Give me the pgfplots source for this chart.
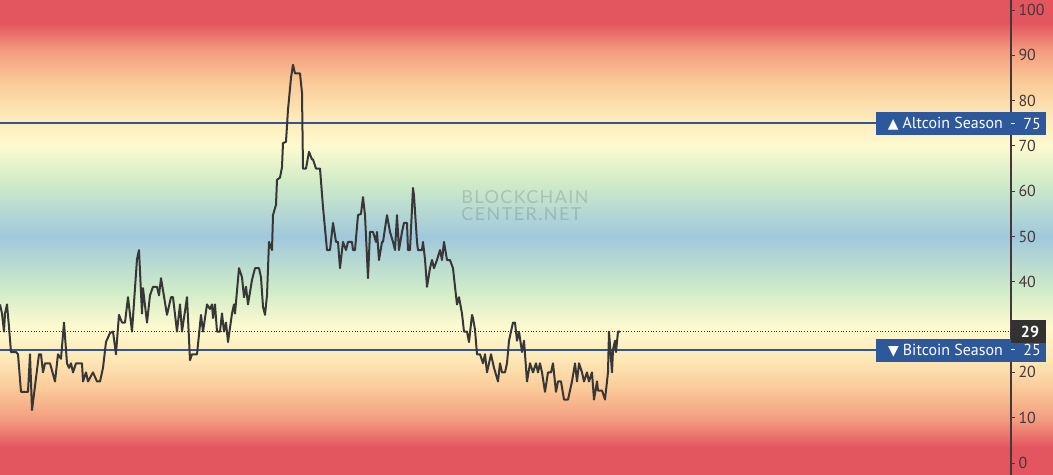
\documentclass[border=0pt]{standalone}
\usepackage{fontspec}
\setmainfont{PT Sans}
\newfontfamily\symfont{DejaVu Sans}
\newfontfamily\wmfont[LetterSpace=8]{Lato}
\usepackage{pgfplots}
\pgfplotsset{compat=1.18}
\definecolor{cred}{RGB}{227,86,95}
\definecolor{ca}{RGB}{243,155,128}
\definecolor{cb}{RGB}{250,200,150}
\definecolor{cc}{RGB}{253,232,182}
\definecolor{cd}{RGB}{254,250,208}
\definecolor{ce}{RGB}{208,236,200}
\definecolor{cf}{RGB}{160,200,220}
\definecolor{boxblue}{RGB}{46,88,156}
\definecolor{lineblue}{RGB}{50,85,150}
\definecolor{linec}{RGB}{55,55,55}
\definecolor{tickc}{RGB}{70,55,58}
\definecolor{darkbox}{RGB}{50,50,50}
\begin{document}
\begin{tikzpicture}
\begin{axis}[
  set layers, clip=false,
  scale only axis, width=1011bp, height=475bp,
  xmin=0, xmax=1011, ymin=-2.65, ymax=102.2,
  axis x line=none, axis y line*=right,
  y axis line style={color=tickc, line width=1.2bp},
  ytick={0,10,20,40,50,60,70,80,90,100},
  tick align=outside, major tick length=4bp,
  y tick style={color=tickc, line width=0.8bp},
  yticklabel style={font=\fontsize{16}{18}\selectfont, text=tickc, anchor=west, xshift=0bp},
  /pgf/number format/assume math mode=true,
]
\begin{pgfonlayer}{axis background}
\fill[cred] (axis cs:0,-2.65) rectangle (axis cs:1053,3.55);
\shade[bottom color=cred, top color=ca] (axis cs:0,3.5) rectangle (axis cs:1053,9.55);
\shade[bottom color=ca, top color=cb] (axis cs:0,9.5) rectangle (axis cs:1053,16.05);
\shade[bottom color=cb, top color=cc] (axis cs:0,16) rectangle (axis cs:1053,23.05);
\shade[bottom color=cc, top color=cd] (axis cs:0,23) rectangle (axis cs:1053,30.05);
\shade[bottom color=cd, top color=ce] (axis cs:0,30) rectangle (axis cs:1053,38.05);
\shade[bottom color=ce, top color=cf] (axis cs:0,38) rectangle (axis cs:1053,50.05);
\shade[bottom color=cf, top color=ce] (axis cs:0,50) rectangle (axis cs:1053,62.05);
\shade[bottom color=ce, top color=cd] (axis cs:0,62) rectangle (axis cs:1053,70.05);
\shade[bottom color=cd, top color=cc] (axis cs:0,70) rectangle (axis cs:1053,77.05);
\shade[bottom color=cc, top color=cb] (axis cs:0,77) rectangle (axis cs:1053,84.55);
\shade[bottom color=cb, top color=ca] (axis cs:0,84.5) rectangle (axis cs:1053,91.05);
\shade[bottom color=ca, top color=cred] (axis cs:0,91) rectangle (axis cs:1053,97.05);
\fill[cred] (axis cs:0,97) rectangle (axis cs:1053,102.2);
\node[font=\wmfont\fontsize{18}{17}\selectfont, text=black, opacity=0.14, align=left] at (axis cs:525,56.8) {BLOCKCHAIN\\CENTER.NET};
\end{pgfonlayer}
\draw[linec, dotted, line width=0.8bp] (axis cs:0,29) -- (axis cs:1011,29);
\draw[lineblue, line width=1.6bp] (axis cs:0,75) -- (axis cs:1011,75);
\draw[lineblue, line width=1.6bp] (axis cs:0,25) -- (axis cs:1011,25);
\addplot[color=linec, line width=2bp, line join=round] coordinates {
(0,35) (2,33) (4,29) (5,33) (7,35) (9,30) (11,24.5) (16,24.5) (18,24) (21,15.7) (28,15.7) (30,24) (32,11.7) (35,17) (39,24) (41,24) (43,20) (45,22) (50,22) (55,18) (58,24) (61,23) (64,31) (67,22) (69,21) (71,22) (73,20) (76,22) (82,22) (83,18) (86,20) (88,18) (93,20) (97,18) (100,18) (103,21) (106,26.7) (110,28.7) (113,29) (116,24) (117,27) (119,32.7) (122,31) (125,31) (128,36.6) (132,29) (137,45) (139,47) (142,33) (143,38.6) (147,31) (150,37) (153,38.9) (157,38.9) (159,37) (161,40.8) (167,32.7) (171,36.6) (173,36.6) (177,29) (180,35) (182,29) (187,36.6) (190,22.7) (192,24) (197,24) (201,32.7) (203,29) (207,35) (210,34) (212,35) (213,32) (215,35) (217,29) (220,29) (222,33) (224,29) (226,31) (228,26.7) (232,33) (234,35) (235,33) (239,43) (242,41) (244,36.6) (246,38.9) (248,35) (252,40.4) (255,43) (259,43) (261,41) (263,34.5) (265,32.7) (267,37) (269,48.8) (272,47) (273,54.7) (276,57) (277,62.5) (280,63) (282,65.3) (283,70.6) (286,70.9) (288,78) (291,85) (293,87.9) (295,86) (298,86) (300,86) (302,81.7) (303,65) (306,65) (309,68.7) (312,67) (313,67) (316,65) (320,65) (323,56.5) (327,47) (330,47) (333,53) (336,48.8) (338,48.8) (340,43) (343,48.8) (346,47) (348,48.8) (352,48.8) (353,47) (355,47) (358,54.7) (361,55) (363,58.7) (365,54.7) (368,40.8) (370,51) (373,51) (376,48.8) (377,51) (379,44.8) (382,48.8) (383,48.8) (387,54.7) (390,51) (393,48.8) (395,47) (397,54.7) (399,47) (402,51) (404,53) (407,53) (408,47) (410,47) (413,60.7) (414,59) (417,48.8) (418,47) (422,47) (423,48.8) (425,45) (427,38.9) (430,43) (432,44.8) (434,43) (437,44.8) (440,47) (442,44.8) (444,48.8) (447,44.8) (450,44.8) (453,43) (455,38.9) (457,35) (459,36.6) (462,33) (464,29) (467,29) (469,26.7) (472,32.7) (473,32) (475,29.4) (477,24) (480,24) (483,22) (485,24) (487,20) (491,24) (494,21) (498,18) (500,22) (502,20) (505,20) (507,22) (509,27) (513,31) (515,31) (517,27) (519,29) (522,24.5) (524,27) (527,18) (530,22) (533,20) (536,22) (538,20) (540,22) (542,20) (545,15.7) (548,20) (551,20) (553,22) (556,15.7) (558,18) (561,18) (564,14) (568,14) (572,18) (575,22) (577,18) (579,22) (582,20) (584,18) (587,20) (589,18) (592,20) (594,14) (597,18) (598,16) (602,16) (605,14) (608,20) (609,29) (612,20) (613,25) (615,27) (616,24.5) (618,29) (620,29)
};
% labels
\fill[boxblue] (axis cs:876,72.45) rectangle (axis cs:1046,77.4);
\node[anchor=east, text=white, font=\fontsize{16}{18}\selectfont, inner sep=0pt] at (axis cs:1003,74.9) {{\symfont\fontsize{14}{16}\selectfont ▲}\hspace{4bp}Altcoin Season};
\draw[white, line width=0.8bp] (axis cs:1011,75) -- (axis cs:1015,75);
\node[text=white, font=\fontsize{16}{18}\selectfont, inner sep=0pt] at (axis cs:1032,74.9) {75};
\fill[boxblue] (axis cs:876,22.3) rectangle (axis cs:1046,27.35);
\node[anchor=east, text=white, font=\fontsize{16}{18}\selectfont, inner sep=0pt] at (axis cs:1003,24.9) {{\symfont\fontsize{14}{16}\selectfont ▼}\hspace{4bp}Bitcoin Season};
\draw[white, line width=0.8bp] (axis cs:1011,25) -- (axis cs:1015,25);
\node[text=white, font=\fontsize{16}{18}\selectfont, inner sep=0pt] at (axis cs:1032,24.9) {25};
\fill[darkbox] (axis cs:1011,26.5) rectangle (axis cs:1046,31.6);
\node[text=white, font=\bfseries\fontsize{16}{18}\selectfont, inner sep=0pt] at (axis cs:1030,28.9) {29};
\end{axis}
\pgfresetboundingbox
\path[use as bounding box] (0,0) rectangle (1053bp,475bp);
\end{tikzpicture}
\end{document}
